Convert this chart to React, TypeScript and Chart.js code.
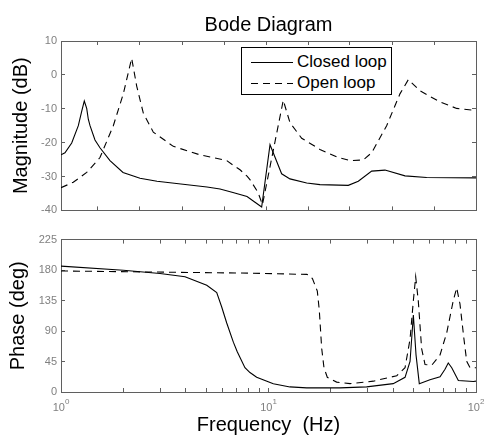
import { useEffect, useRef } from "react";
import { Chart, registerables } from "chart.js";

Chart.register(...registerables);

const FONT = '"Liberation Sans", Arial, Helvetica, sans-serif';
const FRAME = "#5f5f5f";
const TICK_TEXT = "#808080";

// Closed-loop magnitude (Hz, dB)
const CL_MAG_FREQ = [1, 1.045, 1.126, 1.212, 1.258, 1.295, 1.33, 1.354, 1.38, 1.458, 1.541, 1.722, 1.99, 2.403, 2.902, 3.873, 5.053, 5.84, 6.74, 7.88, 8.61, 9.27, 10.17, 11.57, 12.69, 15.28, 17.7, 24.24, 27.09, 31.42, 36.42, 45.5, 57.8, 100];
const CL_MAG_DB = [-23.6, -23.0, -20.1, -15.0, -10.8, -7.7, -9.9, -13.1, -15.0, -19.2, -21.5, -25.3, -28.8, -30.5, -31.4, -32.3, -33.1, -33.7, -34.7, -35.9, -37.6, -39.0, -20.6, -29.2, -30.7, -31.9, -32.4, -32.6, -31.4, -28.4, -28.1, -29.8, -30.3, -30.4];

// Open-loop magnitude (Hz, dB)
const OL_MAG_FREQ = [1, 1.146, 1.33, 1.541, 1.787, 1.996, 2.191, 2.316, 2.493, 2.785, 3.477, 4.676, 6.29, 6.74, 7.29, 7.88, 8.14, 8.9, 9.35, 11.78, 12.69, 14.45, 17.7, 21.3, 24.7, 28.6, 31.42, 37.1, 43.0, 47.2, 53.7, 67.1, 80.7, 100];
const OL_MAG_DB = [-33.3, -31.7, -28.8, -24.4, -15.0, -5.6, 4.9, -3.3, -11.3, -16.9, -21.1, -23.6, -25.3, -26.6, -28.0, -29.9, -30.9, -34.7, -38.3, -7.5, -14.1, -18.7, -22.0, -24.2, -25.3, -25.1, -23.0, -15.0, -5.6, -1.4, -4.7, -8.0, -9.9, -10.5];

// Closed-loop phase (Hz, deg)
const CL_PH_FREQ = [1, 1.996, 3.0, 3.96, 5.04, 5.63, 5.95, 6.29, 6.77, 7.07, 7.7, 8.14, 8.77, 10.55, 12.69, 15.28, 22.1, 29.7, 39.9, 45.5, 48.1, 49.9, 51.4, 53.3, 60.0, 67.1, 70.9, 73.5, 76.4, 82.2, 97.1, 100];
const CL_PH_DEG = [185.8, 179.7, 175, 170.2, 157.5, 146.7, 125.5, 101.9, 73.6, 59.4, 35.8, 28.7, 21.7, 12.3, 7.5, 6.1, 6.1, 7.5, 12.3, 21.7, 45, 113.6, 54.8, 12.3, 18, 22.6, 33.5, 42.9, 35.8, 17, 15.6, 16];

// Open-loop phase (Hz, deg)
const OL_PH_FREQ = [1, 8.0, 15.3, 15.9, 16.3, 17.19, 17.57, 18.05, 18.51, 19.2, 21.3, 24.7, 32.0, 41.5, 45.5, 48.1, 49.9, 51.2, 52.7, 54.7, 56.8, 61.2, 67.1, 72.3, 77.7, 80.7, 83.7, 87.5, 90.2, 93.6, 100];
const OL_PH_DEG = [178.7, 175.5, 173.6, 171.5, 167, 149, 120.7, 64, 35.8, 21.7, 14.6, 12.3, 16, 24, 35.8, 78, 134.9, 170.2, 134.9, 64, 40.6, 39.6, 54.8, 87.7, 134.9, 153.8, 130, 78, 45.3, 35.8, 35.8];

// Axis ticks
const MAG_TICK_STEP = 10;
const PHASE_TICK_STEP = 45;
const FREQ_TICKS = [1, 2, 3, 4, 5, 6, 7, 8, 9, 10, 20, 30, 40, 50, 60, 70, 80, 90, 100];
const FREQ_LABEL_EXPONENTS = [0, 1, 2];
// evenly spaced marks along the magnitude panel's horizontal edges (fraction of width)
const MAG_EDGE_TICKS = [0.0875, 0.19, 0.292, 0.393, 0.494, 0.597, 0.696, 0.798, 0.899];

const SERIES = ["Closed loop", "Open loop"];
const DASH = [7, 5];

const pts = (xs: number[], ys: number[]) => xs.map((x, i) => ({ x, y: ys[i] }));

const tickGrid = {
  display: true,
  drawOnChartArea: false,
  drawTicks: true,
  tickLength: -4,
  color: FRAME,
  lineWidth: 1,
};
const frame = { display: true, color: FRAME, width: 1 };

const fixWidth = (w: number) => (s: any) => {
  s.width = w;
};
const fixHeight = (h: number) => (s: any) => {
  s.height = h;
};

// "10" with a raised exponent under each decade of the frequency axis
const decadeLabels = {
  id: "decadeLabels",
  afterDraw(chart: any) {
    const scale = chart.scales.x;
    const ctx = chart.ctx;
    ctx.save();
    ctx.fillStyle = TICK_TEXT;
    ctx.textBaseline = "alphabetic";
    ctx.textAlign = "left";
    for (const e of FREQ_LABEL_EXPONENTS) {
      const px = scale.getPixelForValue(Math.pow(10, e));
      ctx.font = `11px ${FONT}`;
      const bw = ctx.measureText("10").width;
      ctx.font = `8px ${FONT}`;
      const ew = ctx.measureText(String(e)).width;
      const left = px - (bw + ew) / 2;
      ctx.font = `11px ${FONT}`;
      ctx.fillText("10", left, scale.top + 19);
      ctx.font = `8px ${FONT}`;
      ctx.fillText(String(e), left + bw, scale.top + 12);
    }
    ctx.restore();
  },
};

const lineStyle = (dashed: boolean) => ({
  borderColor: "#000",
  borderWidth: 1.1,
  borderDash: dashed ? DASH : [],
  pointRadius: 0,
  tension: 0,
  fill: false,
});

export default function App() {
  const magRef = useRef<HTMLCanvasElement>(null);
  const phRef = useRef<HTMLCanvasElement>(null);

  useEffect(() => {
    Chart.defaults.font.family = FONT;
    const tickFont = { family: FONT, size: 11 };
    const titleFont = { family: FONT, size: 20 };

    const mag = new Chart(magRef.current!, {
      type: "line",
      data: {
        datasets: [
          { label: SERIES[0], data: pts(CL_MAG_FREQ, CL_MAG_DB), xAxisID: "x", yAxisID: "y", ...lineStyle(false) },
          { label: SERIES[1], data: pts(OL_MAG_FREQ, OL_MAG_DB), xAxisID: "x", yAxisID: "y", ...lineStyle(true) },
        ],
      },
      options: {
        animation: false,
        responsive: false,
        events: [],
        layout: { padding: { top: 41, right: 9, left: 0, bottom: 0 } },
        plugins: { legend: { display: false }, tooltip: { enabled: false } },
        scales: {
          x: { type: "logarithmic", min: 1, max: 100, display: false },
          xb: {
            type: "linear", position: "bottom", min: 0, max: 1,
            afterBuildTicks: (s: any) => { s.ticks = MAG_EDGE_TICKS.map((value) => ({ value })); },
            ticks: { display: false }, grid: tickGrid, border: frame, afterFit: fixHeight(6),
          },
          xt: {
            type: "linear", position: "top", min: 0, max: 1,
            afterBuildTicks: (s: any) => { s.ticks = MAG_EDGE_TICKS.map((value) => ({ value })); },
            ticks: { display: false }, grid: tickGrid, border: frame, afterFit: fixHeight(0),
          },
          y: {
            type: "linear", position: "left", min: -40, max: 10,
            ticks: { stepSize: MAG_TICK_STEP, color: TICK_TEXT, font: tickFont, padding: 8 },
            grid: tickGrid, border: frame,
            title: { display: true, text: "Magnitude (dB)", color: "#000", font: titleFont, padding: { top: 9, bottom: 0 } },
            afterFit: fixWidth(61),
          },
          yr: {
            type: "linear", position: "right", min: -40, max: 10,
            ticks: { display: false, stepSize: MAG_TICK_STEP },
            grid: tickGrid, border: frame, afterFit: fixWidth(0),
          },
        },
      } as any,
    });

    const ph = new Chart(phRef.current!, {
      type: "line",
      data: {
        datasets: [
          { label: SERIES[0], data: pts(CL_PH_FREQ, CL_PH_DEG), xAxisID: "x", yAxisID: "y", ...lineStyle(false) },
          { label: SERIES[1], data: pts(OL_PH_FREQ, OL_PH_DEG), xAxisID: "x", yAxisID: "y", ...lineStyle(true) },
        ],
      },
      options: {
        animation: false,
        responsive: false,
        events: [],
        layout: { padding: { top: 8, right: 9, left: 0, bottom: 0 } },
        plugins: { legend: { display: false }, tooltip: { enabled: false } },
        scales: {
          x: {
            type: "logarithmic", position: "bottom", min: 1, max: 100,
            afterBuildTicks: (s: any) => { s.ticks = FREQ_TICKS.map((value) => ({ value })); },
            ticks: { display: false }, grid: tickGrid, border: frame,
            title: { display: true, text: "Frequency  (Hz)", color: "#000", font: titleFont, padding: { top: 0, bottom: 5 } },
            afterFit: fixHeight(50),
          },
          xt: {
            type: "logarithmic", position: "top", min: 1, max: 100,
            afterBuildTicks: (s: any) => { s.ticks = FREQ_TICKS.map((value) => ({ value })); },
            ticks: { display: false }, grid: tickGrid, border: frame, afterFit: fixHeight(0),
          },
          y: {
            type: "linear", position: "left", min: 0, max: 225,
            ticks: { stepSize: PHASE_TICK_STEP, color: TICK_TEXT, font: tickFont, padding: 8 },
            grid: tickGrid, border: frame,
            title: { display: true, text: "Phase (deg)", color: "#000", font: titleFont, padding: { top: 6, bottom: 0 } },
            afterFit: fixWidth(61),
          },
          yr: {
            type: "linear", position: "right", min: 0, max: 225,
            ticks: { display: false, stepSize: PHASE_TICK_STEP },
            grid: tickGrid, border: frame, afterFit: fixWidth(0),
          },
        },
      } as any,
      plugins: [decadeLabels],
    });

    return () => {
      mag.destroy();
      ph.destroy();
    };
  }, []);

  const legendRow = (text: string, dashed: boolean, top: number) => (
    <div style={{ position: "absolute", left: 0, top, height: 20, width: "100%" }}>
      <svg width={60} height={20} style={{ position: "absolute", left: 8, top: 0 }}>
        <line x1={1} y1={10.5} x2={43} y2={10.5} stroke="#000" strokeWidth={1.1} strokeDasharray={dashed ? DASH.join(" ") : undefined} />
      </svg>
      <span style={{ position: "absolute", left: 55, top: 0, lineHeight: "20px", fontSize: 17, whiteSpace: "nowrap" }}>{text}</span>
    </div>
  );

  return (
    <div style={{ position: "absolute", left: 0, top: 0, width: 485, height: 442, background: "#fff", fontFamily: FONT, overflow: "hidden" }}>
      <canvas ref={magRef} width={485} height={225} style={{ position: "absolute", left: 0, top: 0, width: 485, height: 225 }} />
      <canvas ref={phRef} width={485} height={217} style={{ position: "absolute", left: 0, top: 225, width: 485, height: 217 }} />
      <div style={{ position: "absolute", left: 61, width: 415, top: 12, textAlign: "center", fontSize: 20, lineHeight: "24px", color: "#000" }}>
        Bode Diagram
      </div>
      <div style={{ position: "absolute", left: 241, top: 47, width: 151, height: 48, boxSizing: "border-box", border: "1.5px solid #000", background: "#fff" }}>
        {legendRow(SERIES[0], false, 3.5)}
        {legendRow(SERIES[1], true, 24.5)}
      </div>
    </div>
  );
}
